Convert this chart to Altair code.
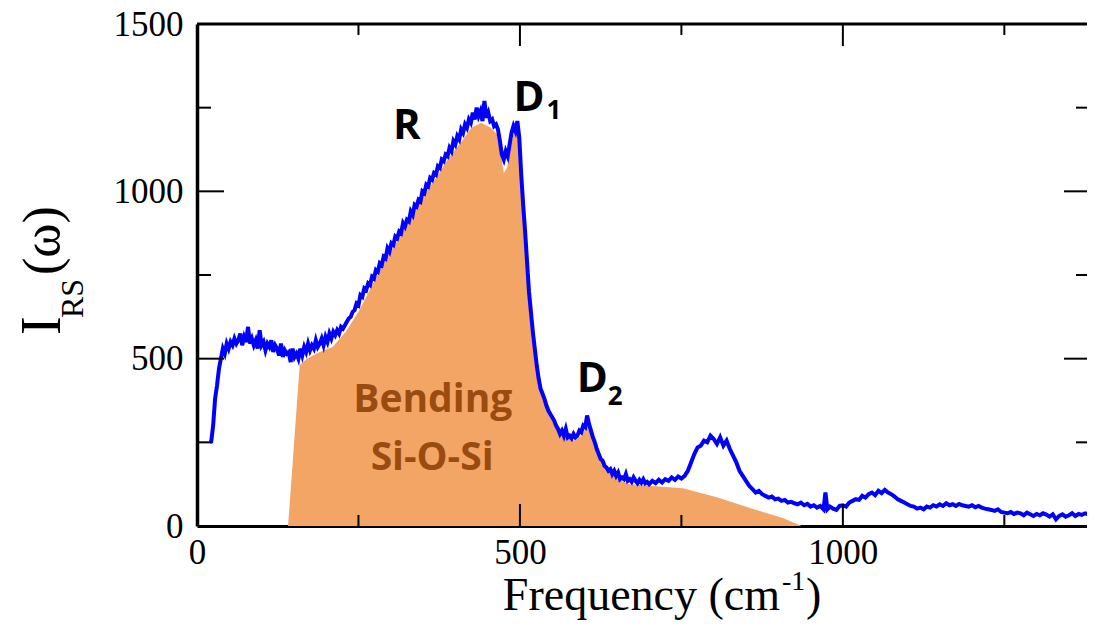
import altair as alt
import pandas as pd

# Blue Raman spectrum (frequency in cm^-1, intensity)
freq = [20, 22, 25, 28, 31, 34, 37, 40, 43, 46, 49, 52, 55, 58, 61, 64, 67, 70, 73, 76,
        79, 82, 85, 88, 91, 94, 97, 100, 103, 106, 109, 112, 115, 118, 121, 124, 127, 130, 133, 136,
        139, 142, 145, 148, 151, 154, 157, 160, 163, 166, 169, 172, 175, 178, 181, 184, 187, 190, 193, 196,
        199, 202, 205, 208, 211, 214, 217, 220, 223, 226, 229, 232, 235, 238, 241, 244, 247, 250, 253, 256,
        259, 262, 265, 268, 271, 274, 277, 280, 283, 286, 289, 292, 295, 298, 301, 304, 307, 310, 313, 316,
        319, 322, 325, 328, 331, 334, 337, 340, 343, 346, 349, 352, 355, 358, 361, 364, 367, 370, 373, 376,
        379, 382, 385, 388, 391, 394, 397, 400, 403, 406, 409, 412, 415, 418, 421, 424, 427, 430, 433, 436,
        439, 442, 445, 448, 451, 454, 457, 460, 463, 466, 469, 472, 475, 478, 481, 484, 487, 490, 493, 496,
        499, 502, 505, 508, 511, 514, 517, 520, 523, 526, 529, 532, 535, 538, 541, 544, 547, 550, 553, 556,
        559, 562, 565, 568, 571, 574, 577, 580, 583, 586, 589, 592, 595, 598, 601, 604, 607, 610, 613, 616,
        619, 622, 625, 628, 631, 634, 637, 640, 643, 646, 649, 652, 655, 658, 661, 664, 667, 670, 673, 676,
        679, 682, 685, 688, 691, 694, 697, 700, 705, 710, 715, 720, 725, 730, 735, 740, 745, 750, 755, 760,
        765, 770, 775, 780, 785, 790, 795, 800, 805, 810, 815, 820, 825, 830, 835, 840, 845, 850, 855, 860,
        865, 870, 875, 880, 885, 890, 895, 900, 905, 910, 915, 920, 925, 930, 935, 940, 945, 950, 955, 960,
        965, 970, 973, 976, 980, 985, 990, 995, 1000, 1005, 1010, 1015, 1020, 1025, 1030, 1035, 1040, 1045, 1050, 1055,
        1060, 1065, 1070, 1075, 1080, 1085, 1090, 1095, 1100, 1105, 1110, 1115, 1120, 1125, 1130, 1135, 1140, 1145, 1150, 1155,
        1160, 1165, 1170, 1175, 1180, 1185, 1190, 1195, 1200, 1205, 1210, 1215, 1220, 1225, 1230, 1235, 1240, 1245, 1250, 1255,
        1260, 1265, 1270, 1275, 1280, 1285, 1290, 1295, 1300, 1305, 1310, 1315, 1320, 1325, 1330, 1335, 1340, 1345, 1350, 1355,
        1360, 1365, 1370, 1375, 1380]
intensity = [250, 252, 300, 380, 420, 470, 500, 530, 515, 545, 530, 550, 540, 560, 545, 555, 575, 540, 565, 550,
             595, 545, 560, 540, 555, 530, 585, 540, 550, 525, 545, 535, 555, 520, 540, 530, 510, 545, 505, 525,
             515, 520, 490, 530, 505, 515, 500, 530, 510, 535, 520, 545, 525, 540, 530, 555, 535, 545, 560, 540,
             565, 550, 575, 560, 580, 570, 585, 575, 595, 590, 600, 610, 620, 625, 640, 645, 665, 660, 690, 685,
             710, 705, 725, 720, 745, 740, 765, 760, 785, 780, 805, 800, 830, 820, 845, 840, 865, 860, 880, 875,
             905, 895, 915, 910, 940, 930, 960, 955, 975, 970, 1000, 995, 1020, 1015, 1040, 1035, 1055, 1050, 1075, 1070,
             1095, 1090, 1110, 1105, 1130, 1120, 1150, 1140, 1165, 1155, 1185, 1175, 1200, 1190, 1215, 1205, 1235, 1215, 1250, 1225,
             1240, 1210, 1270, 1220, 1235, 1210, 1215, 1195, 1200, 1185, 1150, 1110, 1095, 1120, 1105, 1140, 1175, 1195, 1180, 1210,
             1160, 1050, 960, 880, 790, 700, 640, 580, 530, 480, 440, 410, 395, 380, 360, 345, 335, 325, 315, 300,
             290, 275, 285, 270, 290, 265, 270, 262, 275, 265, 270, 285, 280, 300, 295, 330, 305, 285, 265, 250,
             230, 215, 200, 195, 180, 175, 165, 170, 155, 165, 150, 160, 140, 145, 140, 155, 135, 140, 132, 145,
             135, 128, 138, 130, 140, 128, 132, 125, 135, 128, 138, 130, 140, 135, 145, 138, 148, 142, 150, 165,
             190, 215, 235, 240, 255, 250, 270, 260, 245, 265, 240, 255, 230, 210, 190, 165, 150, 135, 120, 110,
             100, 105, 95, 90, 85, 88, 80, 82, 75, 78, 70, 72, 68, 65, 70, 62, 66, 58, 62, 55,
             60, 50, 100, 50, 58, 52, 48, 60, 62, 58, 70, 75, 80, 78, 90, 85, 95, 100, 92, 105,
             98, 108, 100, 95, 88, 80, 75, 70, 65, 60, 58, 52, 55, 50, 58, 55, 62, 58, 65, 60,
             68, 62, 65, 60, 66, 62, 60, 58, 62, 56, 60, 55, 52, 50, 48, 45, 50, 42, 40, 38,
             42, 36, 40, 38, 32, 40, 35, 30, 36, 32, 38, 34, 28, 35, 20, 30, 35, 28, 32, 38,
             30, 36, 33, 38, 35]

# Orange "Bending Si-O-Si" band
band_freq = [141, 159, 170, 190, 210, 230, 250, 270, 290, 310, 330, 350, 370, 390, 410, 425, 440, 455, 465, 470,
             475, 480, 485, 492, 497, 502, 510, 520, 530, 540, 555, 570, 585, 595, 605, 615, 625, 640, 655, 670,
             700, 752, 805, 856, 907, 936]
band_int = [0, 480, 500, 520, 535, 580, 640, 715, 790, 850, 920, 985, 1040, 1100, 1150, 1190, 1205, 1190, 1170, 1120,
            1055, 1070, 1130, 1185, 1190, 1040, 820, 570, 420, 360, 295, 265, 255, 270, 300, 245, 195, 160, 135, 125,
            120, 113, 86, 54, 24, 0]

x_labels = [0, 500, 1000]
y_labels = [0, 500, 1000, 1500]
x_major = [500, 1000]
x_minor = [250, 750, 1250]
y_major = [500, 1000]
y_minor = [250, 750, 1250]

W, H = 890, 502
SERIF = "Liberation Serif"
SANS = "Open Sans"
xs = alt.Scale(domain=[0, 1378], nice=False, zero=False)
ys = alt.Scale(domain=[0, 1500], nice=False)

spec_df = pd.DataFrame({"f": freq, "i": intensity})
band_df = pd.DataFrame({"f": band_freq, "i": band_int})

xaxis = alt.Axis(values=x_labels, format="d", labelFont=SERIF, labelFontSize=35, labelColor="black",
                 labelPadding=9, ticks=False, tickSize=0, domainWidth=3, domainColor="black",
                 grid=False, title=None, labelFlush=False, labelOverlap=False)
yaxis = alt.Axis(values=y_labels, format="d", labelFont=SERIF, labelFontSize=35, labelColor="black",
                 labelPadding=14, ticks=False, tickSize=0, domainWidth=3.5, domainColor="black",
                 grid=False, title=None, labelFlush=False, labelOverlap=False)

def X(field):
    return alt.X(field, scale=xs, axis=xaxis)

def Y(field):
    return alt.Y(field, scale=ys, axis=yaxis)

band = alt.Chart(band_df).mark_area(color="#F3A566", opacity=1, clip=True).encode(
    x=X("f:Q"), y=Y("i:Q"))
spectrum = alt.Chart(spec_df).mark_line(color="#0000FF", strokeWidth=4, clip=True).encode(
    x=X("f:Q"), y=Y("i:Q"))

def xticks(vals, length, top):
    c = alt.Chart(pd.DataFrame({"f": vals})).mark_rule(color="black", strokeWidth=2)
    if top:
        return c.encode(x=X("f:Q"), y=alt.value(0), y2=alt.value(length))
    return c.encode(x=X("f:Q"), y=alt.value(H), y2=alt.value(H - length))

def yticks(vals, length, right):
    c = alt.Chart(pd.DataFrame({"i": vals})).mark_rule(color="black", strokeWidth=2)
    if right:
        return c.encode(y=Y("i:Q"), x=alt.value(W), x2=alt.value(W - length))
    return c.encode(y=Y("i:Q"), x=alt.value(0), x2=alt.value(length))

ticks = [
    xticks(x_major, 22, False), xticks(x_minor, 11, False),
    xticks(x_major, 22, True), xticks(x_minor, 11, True),
    yticks(y_major, 27, False), yticks(y_minor, 14, False),
    yticks(y_major, 23, True), yticks(y_minor, 11, True),
]

top_line = alt.Chart(pd.DataFrame({"a": [0]})).mark_rule(color="black", strokeWidth=3).encode(
    x=alt.value(0), x2=alt.value(W), y=alt.value(0))

def dlabel(txt, x, y, size, color="black", align="left", font=SANS, weight="bold"):
    return alt.Chart(pd.DataFrame({"f": [x], "i": [y], "t": [txt]})).mark_text(
        font=font, fontSize=size, fontWeight=weight, color=color, align=align, baseline="alphabetic"
    ).encode(x=X("f:Q"), y=Y("i:Q"), text="t:N")

def plabel(txt, x, y, size, align="left", angle=0, font=SERIF, weight="normal"):
    return alt.Chart(pd.DataFrame({"t": [txt]})).mark_text(
        font=font, fontSize=size, fontWeight=weight, color="black", align=align,
        baseline="alphabetic", angle=angle
    ).encode(x=alt.value(x), y=alt.value(y), text="t:N")

BROWN = "#9A4C10"
annotations = [
    dlabel("R", 325, 1157, 42, align="center"),
    dlabel("D", 490, 1240, 42),
    dlabel("1", 541, 1217, 26),
    dlabel("D", 588, 400, 42),
    dlabel("2", 636, 361, 26),
    dlabel("Bending", 365, 340, 39, color=BROWN, align="center"),
    dlabel("Si-O-Si", 364, 167, 39, color=BROWN, align="center"),
]

titles = [
    plabel("Frequency (cm", 583, 586, 46, align="right"),
    plabel("-1", 585, 566, 28),
    plabel(")", 609, 586, 46),
    plabel("I", -137, 311, 56, angle=270),
    plabel("RS", -114, 294, 32, angle=270),
    plabel("(\u03c9)", -138, 251, 52, angle=270),
]

chart = alt.layer(band, spectrum, *ticks, top_line, *annotations, *titles).properties(
    width=W, height=H,
    autosize="none",
    padding={"left": 189, "top": 16, "right": 0, "bottom": 100},
).configure_view(stroke=None)

chart.save("out.html", embed_options={"renderer": "svg", "actions": False})
